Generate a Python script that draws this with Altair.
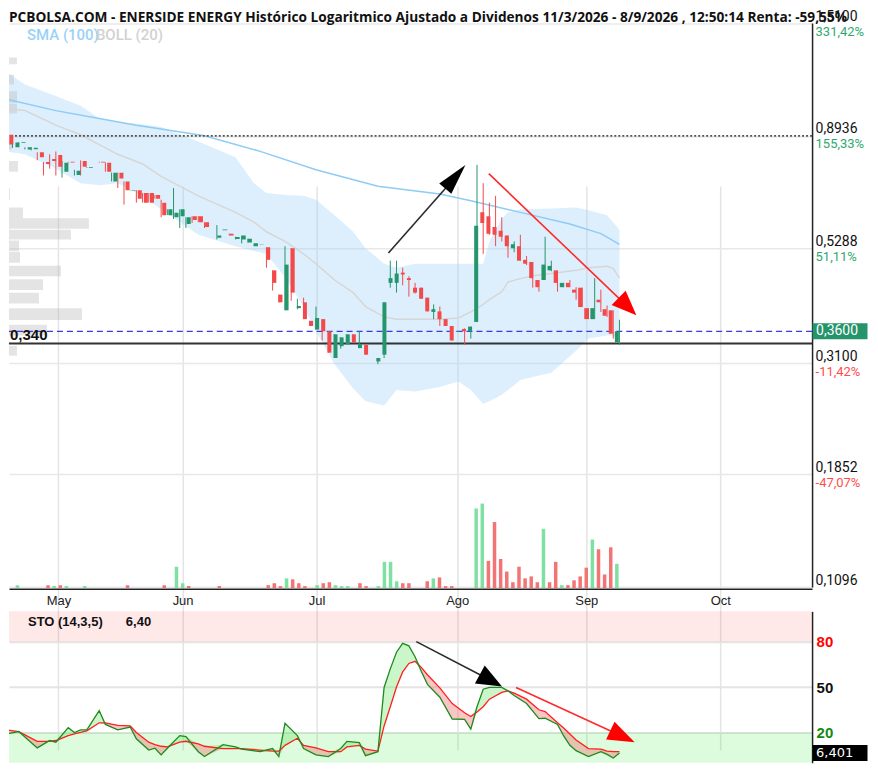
import altair as alt
import pandas as pd

# ---------------- data ----------------
# trading-day index (0 = first session of May)
T = [-8, -7, -6, -5, -4, -3, -2, -1, 0, 1, 2, 3, 4, 5, 7, 8, 9, 10, 11, 12, 13, 14, 15, 16, 17, 18, 19, 20,
     21, 22, 23, 24, 26, 27, 28, 29, 30, 31, 32, 33, 34, 35, 36, 37, 38, 39, 40, 41, 42, 43, 44, 45, 46, 47,
     48, 49, 50, 52, 53, 54, 55, 56, 57, 58, 59, 60, 61, 62, 63, 64, 65, 66, 67, 68, 69, 70, 71, 72, 73, 74,
     75, 76, 77, 78, 79, 80, 81, 82, 83, 84, 85, 86, 87, 88, 89, 90, 91]
OPEN = [.898, .847, .864, .839, .840, .828, .791, .802, .817, .756, .792, .745, .795, .770, .792, .788, .723,
        .753, .723, .693, .694, .685, .685, .679, .655, .618, .612, .615, .593, .615, .615, .598, .556, .576,
        .567, .553, .552, .544, .535, .539, .532, .478, .427, .397, .530, .401, .412, .378, .363, .381, .360,
        .318, .336, .339, .355, .333, .338, .313, .323, .451, .451, .473, .461, .441, .441, .421, .394, .395,
        .381, .369, .359, .364, .360, .376, .626, .615, .585, .575, .562, .530, .535, .502, .497, .457, .457,
        .478, .478, .442, .451, .437, .441, .401, .381, .417, .399, .397, .342]
HIGH = [.898, .868, .867, .847, .847, .828, .791, .820, .831, .795, .792, .763, .797, .773, .792, .790, .753,
        .753, .723, .695, .694, .685, .685, .679, .664, .635, .701, .635, .612, .615, .615, .598, .590, .578,
        .567, .559, .562, .554, .542, .540, .532, .478, .427, .535, .530, .419, .421, .378, .404, .381, .360,
        .355, .350, .355, .355, .360, .338, .318, .412, .500, .500, .484, .465, .451, .441, .421, .408, .404,
        .381, .369, .360, .365, .368, .781, .717, .655, .676, .612, .562, .547, .564, .511, .497, .457, .559,
        .500, .478, .451, .457, .442, .441, .401, .461, .437, .406, .397, .380]
LOW = [.852, .845, .864, .839, .835, .798, .743, .767, .743, .736, .789, .743, .743, .770, .789, .756, .723,
       .701, .649, .693, .655, .655, .655, .667, .612, .618, .607, .582, .582, .596, .598, .582, .552, .576,
       .562, .552, .542, .544, .535, .539, .484, .435, .412, .397, .415, .399, .381, .369, .363, .345, .326,
       .318, .332, .339, .342, .333, .323, .309, .318, .441, .431, .446, .423, .429, .419, .395, .381, .369,
       .369, .345, .359, .338, .348, .376, .516, .564, .535, .547, .507, .520, .500, .490, .441, .433, .457,
       .476, .433, .442, .442, .417, .403, .381, .381, .394, .385, .348, .338]
CLOSE = [.858, .866, .867, .847, .845, .809, .784, .795, .774, .788, .789, .760, .774, .773, .789, .756, .753,
         .733, .694, .695, .667, .655, .655, .667, .618, .635, .625, .635, .612, .604, .598, .585, .562, .578,
         .562, .558, .562, .554, .542, .540, .502, .451, .412, .491, .431, .405, .381, .369, .383, .360, .326,
         .355, .350, .355, .342, .339, .323, .318, .412, .461, .471, .469, .457, .431, .419, .395, .399, .381,
         .369, .345, .360, .360, .368, .588, .596, .567, .564, .559, .535, .540, .500, .493, .461, .442, .491,
         .488, .451, .451, .442, .431, .403, .381, .401, .412, .387, .356, .360]

# volume (thousand shares) and direction vs previous close (1 = up)
VOL_T = [-7, -2, -1, 0, 1, 4, 11, 17, 19, 20, 21, 26, 34, 35, 36, 37, 38, 39, 40, 42, 43, 44, 45, 46, 47, 49,
         50, 52, 53, 54, 55, 56, 57, 60, 61, 62, 63, 64, 68, 69, 70, 71, 72, 73, 74, 75, 76, 77, 78, 79, 80,
         81, 82, 83, 84, 85, 86, 87, 88, 89, 90, 91]
VOL = [60, 60, 40, 60, 40, 40, 60, 60, 440, 100, 40, 40, 60, 100, 40, 200, 180, 100, 40, 60, 100, 120, 60, 40,
       40, 100, 40, 40, 540, 540, 140, 100, 100, 140, 200, 220, 40, 40, 1640, 1740, 560, 1360, 600, 340, 120,
       440, 200, 240, 120, 1220, 120, 540, 60, 60, 160, 240, 420, 1000, 800, 280, 840, 500]
VOL_UP = [1, 0, 1, 0, 1, 1, 0, 0, 1, 1, 0, 0, 0, 0, 0, 1, 0, 0, 0, 1, 0, 0, 1, 1, 1, 0, 0, 1, 1, 1, 1, 0, 0, 0,
          1, 0, 0, 0, 1, 1, 0, 0, 0, 0, 0, 0, 0, 0, 0, 1, 0, 0, 1, 0, 0, 0, 0, 1, 0, 0, 0, 1]

# SMA(100)
SMA_T = [-8, 0, 7, 13, 17, 24, 33, 42, 52, 62, 67, 75, 83, 88, 91]
SMA_V = [1.0605, 1.0047, 0.9691, 0.939, 0.922, 0.8936, 0.8314, 0.7632, 0.7069, 0.682, 0.6607, 0.626, 0.593,
         0.567, 0.5395]

# Bollinger (20)
BB_T = [-8, -5, 0, 4, 7, 10, 14, 17, 23, 29, 32, 34, 37, 40, 42, 45, 48, 50, 53, 55, 58, 62, 65, 67, 69, 70,
        72, 73, 75, 77, 80, 84, 86, 89, 90, 91]
BB_UP = [1.203, 1.135, 1.075, 1.028, 0.969, 0.952, 0.943, 0.931, 0.870, 0.809, 0.717, 0.685, 0.679, 0.676,
         0.664, 0.618, 0.572, 0.530, 0.493, 0.484, 0.493, 0.493, 0.493, 0.493, 0.493, 0.547, 0.607, 0.626,
         0.635, 0.636, 0.637, 0.640, 0.632, 0.618, 0.598, 0.577]
BB_MID = [1.014, 1.005, 0.939, 0.898, 0.858, 0.820, 0.784, 0.740, 0.676, 0.626, 0.598, 0.572, 0.547, 0.516,
          0.493, 0.457, 0.431, 0.404, 0.385, 0.381, 0.381, 0.381, 0.383, 0.394, 0.408, 0.417, 0.433, 0.453,
          0.460, 0.466, 0.471, 0.478, 0.484, 0.487, 0.482, 0.461]
BB_LO = [0.831, 0.820, 0.767, 0.717, 0.710, 0.717, 0.676, 0.635, 0.564, 0.535, 0.523, 0.516, 0.463, 0.404,
         0.360, 0.309, 0.276, 0.260, 0.255, 0.274, 0.272, 0.278, 0.285, 0.274, 0.257, 0.260, 0.268, 0.274,
         0.287, 0.291, 0.297, 0.329, 0.348, 0.353, 0.353, 0.344]

# volume-by-price profile (price bucket, relative volume)
VP_LO = [1.247, 1.135, 1.0416, 0.9912, 0.8390, 0.7564, 0.6637, 0.6093, 0.5798, 0.5518, 0.5227, 0.4952,
         0.4649, 0.4365, 0.4098, 0.3796, 0.3532, 0.3213]
VP_HI = [1.287, 1.187, 1.0995, 1.037, 0.8659, 0.7948, 0.7006, 0.6402, 0.6093, 0.5772, 0.5493, 0.5204,
         0.4885, 0.4586, 0.4306, 0.4007, 0.3711, 0.3361]
VP_VOL = [8, 5, 8, 8, 3, 9, 1, 14, 80, 62, 10, 11, 52, 34, 30, 73, 38, 8]

# Stochastic (14,3,5)
STO_T = [-8, -6, -3, -1, 0, 2, 3, 4, 5, 7, 8, 10, 12, 13, 15, 16, 17, 18, 20, 21, 23, 24, 27, 29, 30, 33, 35,
         36, 37, 39, 40, 42, 44, 46, 47, 49, 50, 52, 53, 54, 55, 56, 57, 58, 59, 60, 62, 64, 66, 67, 68, 69,
         70, 72, 73, 74, 76, 78, 79, 81, 82, 83, 84, 86, 88, 89, 90, 91]
STO_K = [19, 20.6, 9.8, 14.7, 13.6, 23.2, 20, 21.7, 21.7, 34.4, 25.3, 21.7, 23.6, 15.8, 8.4, 9.6, 5.2, 9.6,
         17.9, 17.3, 7.3, 4.1, 12.0, 10.5, 9.0, 7.3, 9.4, 4.1, 26, 17.9, 9.4, 5.2, 4.1, 9.4, 14.1, 13.3, 4.7,
         7.3, 49.7, 62, 73, 78.9, 77.2, 70, 60.5, 51.8, 43.3, 28.9, 28.6, 22.2, 37, 48.6, 49.8, 49.8, 47.5,
         44.4, 39.1, 29.2, 29.4, 25.3, 17.7, 11.5, 8, 4.1, 7.3, 5.5, 3.1, 6.401]
STO_D = [21.7, 20.6, 14.1, 14.1, 14.7, 17.9, 19, 20, 21.1, 26.4, 26.4, 24.7, 24.3, 20, 13.6, 12, 10.9, 10.5,
         13.6, 14.2, 12.5, 10.9, 9.4, 9.4, 9.4, 8.4, 7.7, 7.7, 11.5, 16.2, 11.5, 9.8, 7.3, 7.3, 10.5, 11.5, 9.0,
         7.7, 24.3, 37, 50, 60, 65.6, 67, 63, 58.1, 49.5, 39.1, 33, 30.5, 33.5, 37, 42, 46.5, 47.5, 46, 42, 35,
         33.8, 26.4, 23, 19, 15, 9.4, 9.0, 7.7, 7.3, 7.3]

# axis ticks / labels
PRICE_TICKS = [0.1096, 0.1852, 0.31, 0.5288, 0.8936, 1.51]
PCT_LABELS = ["", "-47,07%", "-11,42%", "51,11%", "155,33%", "331,42%"]
MONTH_T = [-0.3, 20.0, 41.9, 64.9, 86.0, 107.9]
MONTH_NAMES = ["May", "Jun", "Jul", "Ago", "Sep", "Oct"]
STO_TICKS = [20, 50, 80]

SUPPORT = 0.34
LAST_PRICE = CLOSE[-1]
LAST_STO = STO_K[-1]

TITLE = ("PCBOLSA.COM - ENERSIDE ENERGY Histórico Logaritmico Ajustado a Dividenos "
         "11/3/2026 - 8/9/2026 , 12:50:14 Renta: -59,55%")

# annotation arrows (drawn on the chart)
PA_T1 = [53.7, 69.9]; PA_P1 = [0.518, 0.7496]; PA_T2 = [64.1, 91.94]; PA_P2 = [0.728, 0.408]
PH_T = [64.1, 91.94]; PH_P = [0.7283, 0.408]; PH_ANG = [40.5, 134.6]; PH_SIZE = [1505, 973]
PH_SHAPE = ["M0,-1L0.41,0.6L-0.41,0.6Z", "M0,-1L0.64,0.6L-0.64,0.6Z"]
SA_T1 = [58.2, 74.3]; SA_V1 = [80, 49.7]; SA_T2 = [69.8, 91.0]; SA_V2 = [55.3, 18.3]
SH_T = [69.8, 91.0]; SH_V = [55.3, 18.3]; SH_ANG = [118.5, 115.5]; SH_SIZE = [1000, 1142]
SH_SHAPE = ["M0,-1L0.65,0.6L-0.65,0.6Z", "M0,-1L0.58,0.6L-0.58,0.6Z"]
ARROW_COL = ["#2b2b2b", "#ff2a2a"]
HEAD_COL = ["#000000", "#ff0000"]

# ---------------- layout / style ----------------
W, H = 804, 757
X_DOMAIN = [-7.565, 122.1]
PRICE_DOMAIN = [0.1096, 1.51]
PRICE_RANGE = [579.3, 14.6]
VOL_RANGE = [580.3, 94.3]
STO_RANGE = [755.2, 603.6]
AXIS_Y = 581
GREEN = "#25956b"
RED = "#f24a4a"


def xs():
    return alt.Scale(domain=X_DOMAIN, nice=False, zero=False)


def ps():
    return alt.Scale(type="log", domain=PRICE_DOMAIN, range=PRICE_RANGE, nice=False)


def ss():
    return alt.Scale(domain=[0, 100], range=STO_RANGE, nice=False, zero=False)


def expr_map(values, labels):
    s = ""
    for v, lab in zip(values, labels):
        s += f"abs(datum.value - {v}) < 1e-6 ? '{lab}' : "
    return s + "''"


X = alt.X("t:Q", scale=xs(), axis=None)

price_axis = alt.Axis(orient="right", values=PRICE_TICKS,
                      labelExpr="replace(format(datum.value, '.4f'), '.', ',')",
                      grid=True, gridColor="#e8e8e8", gridWidth=1.5, ticks=False,
                      domain=True, domainColor="#222222", domainWidth=1.5,
                      labelPadding=3, labelBaseline="alphabetic", labelOffset=-3,
                      labelFont="Roboto", labelFontSize=14, labelColor="#111111",
                      labelOverlap=False, title=None)
pct_axis = alt.Axis(orient="right", values=PRICE_TICKS, labelExpr=expr_map(PRICE_TICKS, PCT_LABELS),
                    grid=False, ticks=False, domain=False, labelPadding=3,
                    labelBaseline="top", labelOffset=2, labelFont="Roboto", labelFontSize=13,
                    labelColor={"condition": {"test": "datum.value > 0.35", "value": "#2ea86f"},
                                "value": "#ff4d4d"},
                    labelOverlap=False, title=None)
month_axis = alt.Axis(orient="bottom", offset=-(H - AXIS_Y), values=MONTH_T,
                      labelExpr=expr_map(MONTH_T, MONTH_NAMES), grid=True, gridColor="#e4e4e4",
                      gridWidth=1.5, ticks=False, domain=True, domainColor="#222222", domainWidth=1.5,
                      labelPadding=6, labelFont="Liberation Sans", labelFontSize=13, labelColor="#222222",
                      labelFlush=False, labelOverlap=False, title=None)
sto_axis = alt.Axis(orient="right", values=STO_TICKS, grid=True, gridColor="#e4e4e4", gridWidth=2,
                    ticks=False, domain=True, domainColor="#222222", domainWidth=1.5, labelPadding=4,
                    labelFont="Liberation Sans", labelFontSize=15, labelFontWeight="bold",
                    labelColor={"condition": [{"test": "datum.value == 80", "value": "#ff0000"},
                                              {"test": "datum.value == 20", "value": "#128a12"}],
                                "value": "#111111"},
                    labelOverlap=False, title=None)

candles = pd.DataFrame({"t": T, "open": OPEN, "high": HIGH, "low": LOW, "close": CLOSE})
vol_df = pd.DataFrame({"t": VOL_T, "vol": VOL, "up": VOL_UP})
sma_df = pd.DataFrame({"t": SMA_T, "v": SMA_V})
bb_df = pd.DataFrame({"t": BB_T, "up": BB_UP, "mid": BB_MID, "lo": BB_LO})
vp_df = pd.DataFrame({"lo": VP_LO, "hi": VP_HI, "vol": VP_VOL})
sto_df = pd.DataFrame({"t": STO_T, "K": STO_K, "D": STO_D})
sto_bg = pd.DataFrame({"lo": [80, 0], "hi": [100, 20], "col": ["#ff3030", "#10e010"], "op": [0.11, 0.14]})
pa_df = pd.DataFrame({"t1": PA_T1, "p1": PA_P1, "t2": PA_T2, "p2": PA_P2, "col": ARROW_COL})
ph_df = pd.DataFrame({"t": PH_T, "p": PH_P, "ang": PH_ANG, "sz": PH_SIZE, "shp": PH_SHAPE, "col": HEAD_COL})
sa_df = pd.DataFrame({"t1": SA_T1, "v1": SA_V1, "t2": SA_T2, "v2": SA_V2, "col": ARROW_COL})
sh_df = pd.DataFrame({"t": SH_T, "v": SH_V, "ang": SH_ANG, "sz": SH_SIZE, "shp": SH_SHAPE, "col": HEAD_COL})

cond_col = alt.condition("datum.close >= datum.open", alt.value(GREEN), alt.value(RED))

layers = []

# STO background bands
layers.append(alt.Chart(sto_bg).mark_rect().encode(
    y=alt.Y("lo:Q", scale=ss(), axis=None), y2="hi:Q",
    color=alt.Color("col:N", scale=None), opacity=alt.Opacity("op:Q", scale=None)))

# Bollinger band
layers.append(alt.Chart(bb_df).mark_area(color="#9fd0f5", opacity=0.35, clip=True).encode(
    x=X, y=alt.Y("up:Q", scale=ps(), axis=None), y2="lo:Q"))

# volume profile
layers.append(alt.Chart(vp_df).transform_calculate(zero="0").mark_rect(
    color="#b8b8b8", opacity=0.38, clip=True).encode(
    x=alt.X("zero:Q", scale=alt.Scale(domain=[0, W], nice=False), axis=None), x2="vol:Q",
    y=alt.Y("lo:Q", scale=ps(), axis=None), y2="hi:Q"))

# volume bars
layers.append(alt.Chart(vol_df).mark_bar(size=3.5, clip=True).encode(
    x=X, y=alt.Y("vol:Q", scale=alt.Scale(domain=[0, 10000], range=VOL_RANGE, nice=False), axis=None),
    color=alt.condition("datum.up == 1", alt.value("#80dfa3"), alt.value("#f37474"))))

# Bollinger middle and SMA
layers.append(alt.Chart(bb_df).mark_line(color="#d6d6d6", strokeWidth=1.5, clip=True).encode(
    x=X, y=alt.Y("mid:Q", scale=ps(), axis=None)))
layers.append(alt.Chart(sma_df).mark_line(color="#8ecbf5", strokeWidth=1.5, clip=True).encode(
    x=X, y=alt.Y("v:Q", scale=ps(), axis=None)))

# reference lines
layers.append(alt.Chart(pd.DataFrame({"p": [PRICE_TICKS[4]]})).mark_rule(
    color="#555555", strokeDash=[2, 2], strokeWidth=1.8).encode(
    y=alt.Y("p:Q", scale=ps(), axis=pct_axis)))
layers.append(alt.Chart(pd.DataFrame({"p": [SUPPORT]})).mark_rule(color="#333333", strokeWidth=2).encode(
    y=alt.Y("p:Q", scale=ps(), axis=None)))
layers.append(alt.Chart(pd.DataFrame({"p": [LAST_PRICE]})).mark_rule(
    color="#3a3ae0", strokeDash=[6, 4], strokeWidth=1.3).encode(
    y=alt.Y("p:Q", scale=ps(), axis=None)))

# candles
layers.append(alt.Chart(candles).mark_rule(strokeWidth=1, clip=True).encode(
    x=X, y=alt.Y("low:Q", scale=ps(), axis=price_axis), y2="high:Q", color=cond_col))
layers.append(alt.Chart(candles).mark_bar(size=4, clip=True).encode(
    x=alt.X("t:Q", scale=xs(), axis=month_axis),
    y=alt.Y("open:Q", scale=ps(), axis=None), y2="close:Q", color=cond_col))

# stochastic fills and lines
sto_base = alt.Chart(sto_df).transform_calculate(
    hi="max(datum.K, datum.D)", lo="min(datum.K, datum.D)")
layers.append(sto_base.mark_area(color="#7be87b", opacity=0.4, clip=True).encode(
    x=X, y=alt.Y("D:Q", scale=ss(), axis=None), y2="hi:Q"))
layers.append(sto_base.mark_area(color="#f07070", opacity=0.4, clip=True).encode(
    x=X, y=alt.Y("lo:Q", scale=ss(), axis=None), y2="D:Q"))
layers.append(alt.Chart(sto_df).mark_line(color="#ff1f1f", strokeWidth=1.3, clip=True).encode(
    x=X, y=alt.Y("D:Q", scale=ss(), axis=None)))
layers.append(alt.Chart(sto_df).mark_line(color="#1d8a1d", strokeWidth=1.3, clip=True).encode(
    x=X, y=alt.Y("K:Q", scale=ss(), axis=sto_axis)))

# arrows
layers.append(alt.Chart(pa_df).mark_rule(strokeWidth=1.6).encode(
    x=alt.X("t1:Q", scale=xs(), axis=None), x2="t2:Q",
    y=alt.Y("p1:Q", scale=ps(), axis=None), y2="p2:Q", color=alt.Color("col:N", scale=None)))
layers.append(alt.Chart(ph_df).mark_point(filled=True, opacity=1, strokeWidth=0).encode(
    x=alt.X("t:Q", scale=xs(), axis=None), y=alt.Y("p:Q", scale=ps(), axis=None),
    angle=alt.Angle("ang:Q", scale=None), size=alt.Size("sz:Q", scale=None),
    shape=alt.Shape("shp:N", scale=None), color=alt.Color("col:N", scale=None)))
layers.append(alt.Chart(sa_df).mark_rule(strokeWidth=1.6).encode(
    x=alt.X("t1:Q", scale=xs(), axis=None), x2="t2:Q",
    y=alt.Y("v1:Q", scale=ss(), axis=None), y2="v2:Q", color=alt.Color("col:N", scale=None)))
layers.append(alt.Chart(sh_df).mark_point(filled=True, opacity=1, strokeWidth=0).encode(
    x=alt.X("t:Q", scale=xs(), axis=None), y=alt.Y("v:Q", scale=ss(), axis=None),
    angle=alt.Angle("ang:Q", scale=None), size=alt.Size("sz:Q", scale=None),
    shape=alt.Shape("shp:N", scale=None), color=alt.Color("col:N", scale=None)))

# labels
layers.append(alt.Chart(pd.DataFrame({"p": [SUPPORT], "txt": ["0,340"]})).mark_text(
    align="left", baseline="middle", dy=-9, font="Liberation Sans", fontSize=15, fontWeight="bold",
    color="#111111").encode(
    x=alt.value(1), y=alt.Y("p:Q", scale=ps(), axis=None), text="txt:N"))
last_df = pd.DataFrame({"p": [LAST_PRICE], "txt": [f"{LAST_PRICE:.4f}".replace(".", ",")]})
layers.append(alt.Chart(last_df).mark_tick(orient="horizontal", thickness=16, size=55, color="#24956a",
                                           opacity=1).encode(
    x=alt.value(832), y=alt.Y("p:Q", scale=ps(), axis=None)))
layers.append(alt.Chart(last_df).mark_text(align="left", baseline="middle", font="Roboto", fontSize=14,
                                           color="white").encode(
    x=alt.value(808), y=alt.Y("p:Q", scale=ps(), axis=None), text="txt:N"))
sto_last = pd.DataFrame({"v": [LAST_STO], "txt": [f"{LAST_STO:.3f}".replace(".", ",")]})
layers.append(alt.Chart(sto_last).mark_tick(orient="horizontal", thickness=16, size=55, color="#000000",
                                            opacity=1).encode(
    x=alt.value(832), y=alt.Y("v:Q", scale=ss(), axis=None)))
layers.append(alt.Chart(sto_last).mark_text(align="left", baseline="middle", font="DejaVu Sans",
                                            fontSize=13, color="white").encode(
    x=alt.value(808), y=alt.Y("v:Q", scale=ss(), axis=None), text="txt:N"))

texts = pd.DataFrame({
    "txt": [TITLE, "SMA (100)", "BOLL (20)", "STO (14,3,5)", f"{LAST_STO:.2f}".replace(".", ",")],
})
layers.append(alt.Chart(texts.iloc[[0]]).mark_text(
    align="left", baseline="alphabetic", font="Open Sans", fontWeight="bold", fontSize=13.7,
    color="#111111").encode(x=alt.value(0), y=alt.value(14), text="txt:N"))
layers.append(alt.Chart(texts.iloc[[1]]).mark_text(
    align="left", baseline="middle", font="Roboto", fontWeight=500, fontSize=15,
    color="#9ad2f7").encode(x=alt.value(18), y=alt.value(27), text="txt:N"))
layers.append(alt.Chart(texts.iloc[[2]]).mark_text(
    align="left", baseline="middle", font="Roboto", fontWeight=500, fontSize=15,
    color="#d2d2d2").encode(x=alt.value(87), y=alt.value(27), text="txt:N"))
layers.append(alt.Chart(texts.iloc[[3]]).mark_text(
    align="left", baseline="middle", font="Liberation Sans", fontWeight="bold", fontSize=13,
    color="#111111").encode(x=alt.value(19), y=alt.value(614), text="txt:N"))
layers.append(alt.Chart(texts.iloc[[4]]).mark_text(
    align="left", baseline="middle", font="Liberation Sans", fontWeight="bold", fontSize=13,
    color="#111111").encode(x=alt.value(117), y=alt.value(614), text="txt:N"))

chart = alt.layer(*layers).resolve_scale(x="independent", y="independent").properties(
    width=W, height=H, padding={"left": 0, "top": 0, "right": 2, "bottom": 0},
    background="white").configure_view(strokeWidth=0)

chart.save("out.html", embed_options={"renderer": "svg", "actions": False})
